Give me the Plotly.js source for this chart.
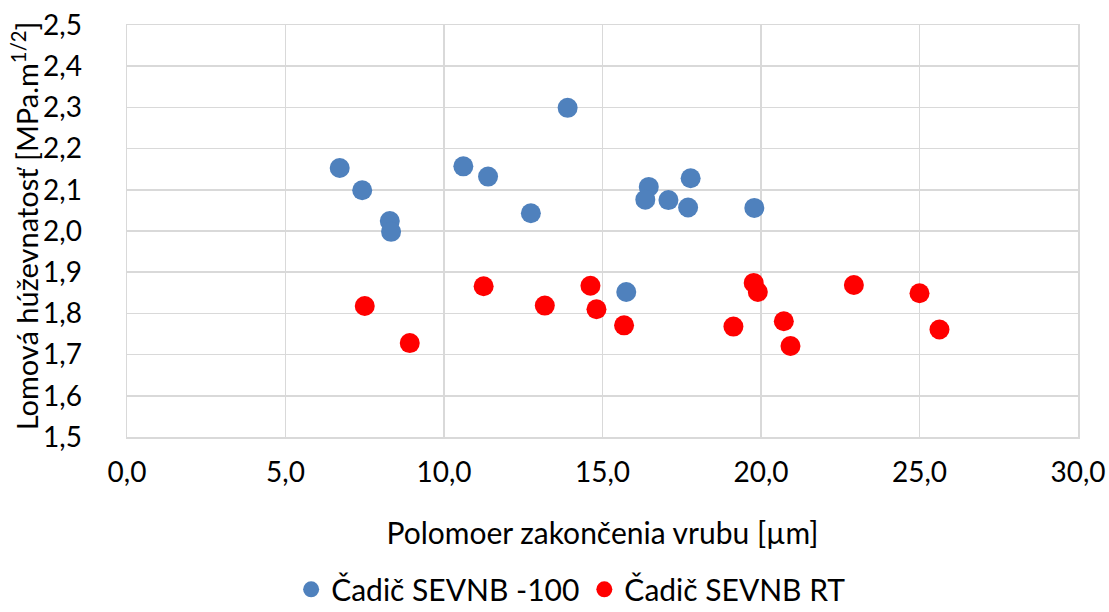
<!DOCTYPE html>
<html>
<head>
<meta charset="utf-8">
<script src="https://cdn.plot.ly/plotly-3.0.1.min.js"></script>
<style>html,body{margin:0;padding:0;background:#fff;}#chart{width:1109px;height:612px;}</style>
</head>
<body>
<div id="chart"></div>
<script>
const seriesNames = ["Čadič SEVNB -100", "Čadič SEVNB RT"];
const blueX = [6.71, 7.42, 8.29, 8.33, 10.61, 11.39, 12.74, 13.90, 15.75, 16.46, 16.35, 17.08, 17.78, 17.70, 19.79];
const blueY = [2.153, 2.099, 2.024, 1.998, 2.157, 2.132, 2.043, 2.299, 1.852, 2.107, 2.076, 2.075, 2.128, 2.057, 2.056];
const redX = [7.50, 8.92, 11.25, 13.18, 14.62, 14.81, 15.68, 19.13, 19.77, 19.90, 20.72, 20.93, 22.93, 25.00, 25.63];
const redY = [1.818, 1.728, 1.866, 1.819, 1.867, 1.810, 1.771, 1.768, 1.874, 1.852, 1.781, 1.721, 1.869, 1.849, 1.761];
const xTitle = "Polomoer zakončenia vrubu [µm]";
const yTitle = "Lomová húževnatosť [MPa.m<sup>1/2</sup>]";

const font = "Lato, 'Open Sans', sans-serif";
const traces = [
  {x: blueX, y: blueY, name: seriesNames[0], type: "scatter", mode: "markers",
   marker: {color: "#4f81bd", size: 20}},
  {x: redX, y: redY, name: seriesNames[1], type: "scatter", mode: "markers",
   marker: {color: "#ff0000", size: 20}}
];
const layout = {
  width: 1109, height: 612,
  margin: {l: 126.5, r: 31, t: 25, b: 175},
  separators: ", ",
  paper_bgcolor: "#fff", plot_bgcolor: "#fff",
  font: {family: font, color: "#000", size: 28},
  showlegend: true,
  legend: {orientation: "h", xref: "container", yref: "container",
           x: 0.515, xanchor: "center", y: 0.037, yanchor: "middle",
           font: {size: 30}, traceorder: "normal"},
  annotations: [{text: yTitle, xref: "paper", yref: "paper", x: -0.107, y: 0.512,
                 xanchor: "center", yanchor: "middle", textangle: -90, showarrow: false,
                 font: {size: 29}}],
  xaxis: {range: [0, 30], dtick: 5, tick0: 0, tickformat: ".1f",
          showgrid: true, gridcolor: "#d9d9d9", gridwidth: 1.5,
          showline: true, linecolor: "#d9d9d9", linewidth: 1.5, mirror: true,
          zeroline: false, ticks: "", ticklabelstandoff: 10, automargin: false,
          tickfont: {size: 28},
          title: {text: xTitle, font: {size: 30}, standoff: 36}},
  yaxis: {range: [1.5, 2.5], dtick: 0.1, tick0: 1.5, tickformat: ".1f",
          showgrid: true, gridcolor: "#d9d9d9", gridwidth: 1.5,
          showline: true, linecolor: "#d9d9d9", linewidth: 1.5, mirror: true,
          zeroline: false, ticks: "", ticklabelstandoff: 38, automargin: false,
          tickfont: {size: 28}}
};
Plotly.newPlot("chart", traces, layout, {displayModeBar: false, staticPlot: true});
</script>
</body>
</html>
